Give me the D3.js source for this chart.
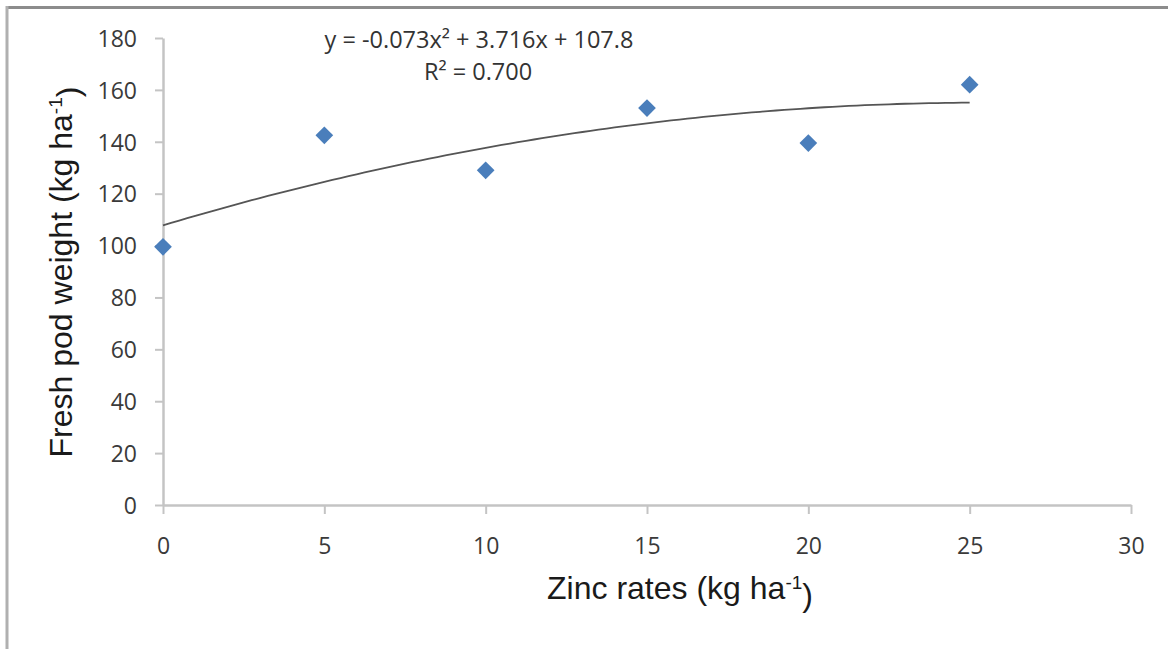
<!DOCTYPE html>
<html>
<head>
<meta charset="utf-8">
<script src="https://cdn.jsdelivr.net/npm/d3@7"></script>
<style>
  html, body { margin: 0; padding: 0; background: #fff; }
  svg { display: block; }
</style>
</head>
<body>
<svg id="chart" width="1168" height="649"></svg>
<script>
// Zinc application rate (kg/ha) and fresh pod weight (kg/ha)
const zincRates = [0, 5, 10, 15, 20, 25];
const podWeight = [99.5, 142.5, 129, 153, 139.5, 162];

// Quadratic trend fitted to the points
const trendCoef = { a: -0.073, b: 3.716, c: 107.8 };
const equationLabel = "y = -0.073x² + 3.716x + 107.8";
const r2Label = "R² = 0.700";

const xTicks = [0, 5, 10, 15, 20, 25, 30];
const yTicks = [0, 20, 40, 60, 80, 100, 120, 140, 160, 180];

const svg = d3.select("#chart");
const W = 1168, H = 649;

// outer frame (top and left edges)
svg.append("line").attr("x1", 7).attr("x2", W).attr("y1", 7.5).attr("y2", 7.5)
  .attr("stroke", "#8c8c8c").attr("stroke-width", 3);
svg.append("line").attr("x1", 7).attr("x2", 7).attr("y1", 6).attr("y2", H)
  .attr("stroke", "#b0b0b0").attr("stroke-width", 3);

const plot = { left: 163, right: 1131, top: 38, bottom: 505 };

const x = d3.scaleLinear().domain([0, 30]).range([plot.left, plot.right]);
const y = d3.scaleLinear().domain([0, 180]).range([plot.bottom, plot.top]);

const axisColor = "#c4c4c4";
const tickFont = "'Open Sans', 'DejaVu Sans', sans-serif";

// y axis
const yAxis = svg.append("g")
  .attr("transform", `translate(${plot.left},0)`)
  .call(d3.axisLeft(y).tickValues(yTicks).tickSize(8).tickPadding(18).tickSizeOuter(0));
// x axis
const xAxis = svg.append("g")
  .attr("transform", `translate(0,${plot.bottom})`)
  .call(d3.axisBottom(x).tickValues(xTicks).tickSize(9).tickPadding(24).tickSizeOuter(0));

[yAxis, xAxis].forEach(g => {
  g.select(".domain").attr("stroke", axisColor).attr("stroke-width", 2.5);
  g.selectAll(".tick line").attr("stroke", axisColor).attr("stroke-width", 2);
  g.selectAll(".tick text")
    .attr("fill", "#3a3a3a")
    .style("font-family", tickFont)
    .style("font-size", "23px");
});
yAxis.selectAll(".tick text").attr("dy", "0.36em");

// trend curve
const trendPts = d3.range(0, 25.001, 0.25).map(v => [v, trendCoef.a * v * v + trendCoef.b * v + trendCoef.c]);
svg.append("path")
  .datum(trendPts)
  .attr("fill", "none")
  .attr("stroke", "#555555")
  .attr("stroke-width", 1.8)
  .attr("d", d3.line().x(d => x(d[0])).y(d => y(d[1])));

// observed points as diamonds
const diamond = d3.symbol().type(d3.symbolDiamond2).size(200);
svg.append("g").selectAll("path")
  .data(zincRates.map((z, i) => [z, podWeight[i]]))
  .join("path")
  .attr("d", diamond)
  .attr("transform", d => `translate(${x(d[0])},${y(d[1])})`)
  .attr("fill", "#4a7ebb");

// equation and R²
const eqFont = "'Open Sans', 'DejaVu Sans', sans-serif";
svg.append("text")
  .attr("x", 479).attr("y", 48)
  .attr("text-anchor", "middle")
  .attr("fill", "#333")
  .style("font-family", eqFont).style("font-size", "23.5px")
  .text(equationLabel);
svg.append("text")
  .attr("x", 478).attr("y", 80)
  .attr("text-anchor", "middle")
  .attr("fill", "#333")
  .style("font-family", eqFont).style("font-size", "23.5px")
  .text(r2Label);

// axis titles
const titleFont = "'Liberation Sans', Arial, sans-serif";
function unitTitle(sel, main) {
  sel.append("tspan").text(main);
  sel.append("tspan").attr("dy", "-0.55em").style("font-size", "19px").text("-1");
  sel.append("tspan").attr("dy", "0.55em").text(")");
}

const xt = svg.append("text")
  .attr("x", 680).attr("y", 599)
  .attr("text-anchor", "middle")
  .attr("fill", "#1a1a1a")
  .style("font-family", titleFont).style("font-size", "32px");
unitTitle(xt, "Zinc rates (kg ha");

const yt = svg.append("text")
  .attr("transform", "translate(72,272) rotate(-90)")
  .attr("text-anchor", "middle")
  .attr("fill", "#1a1a1a")
  .style("font-family", titleFont).style("font-size", "32px");
unitTitle(yt, "Fresh pod weight (kg ha");
</script>
</body>
</html>
